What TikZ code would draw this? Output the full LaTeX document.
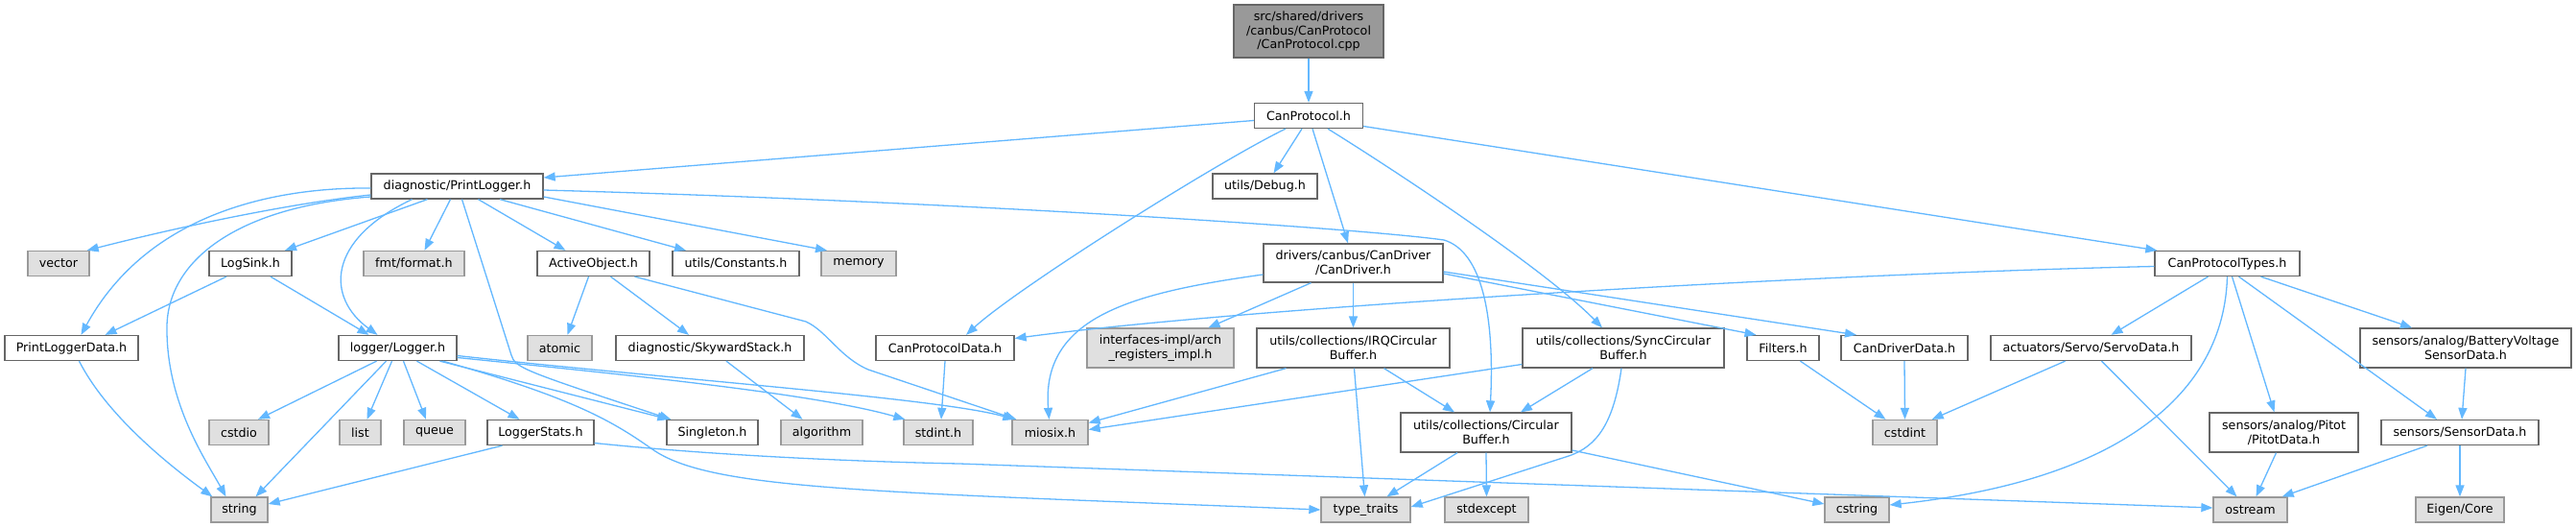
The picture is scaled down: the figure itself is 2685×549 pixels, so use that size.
\documentclass[tikz,border=0pt]{standalone}
\usepackage{fontspec}
\setmainfont{DejaVu Sans}
\usetikzlibrary{arrows.meta,calc}
\definecolor{edgecol}{HTML}{63B8FF}
\definecolor{boxborder}{HTML}{666666}
\definecolor{gborder}{HTML}{999999}
\definecolor{gfill}{HTML}{E0E0E0}
\definecolor{topfill}{HTML}{999999}
\newcommand\nodefont{\fontsize{12.7}{14.7}\selectfont}
\tikzset{
  wbox/.style={draw=boxborder, fill=white, line width=1.3pt, font=\nodefont, align=center, inner sep=0pt, minimum height=26pt},
  gbox/.style={wbox, draw=gborder, fill=gfill},
  tbox/.style={wbox, draw=boxborder, fill=topfill},
  dbl/.style={minimum height=41pt},
  edge/.style={draw=edgecol, line width=1.3pt, -{Triangle[length=12pt,width=9pt,fill=edgecol]}},
}
\begin{document}
\begin{tikzpicture}[x=1pt,y=-1pt]
\fill[white] (0,0) rectangle (2685,549);
\useasboundingbox (0,0) rectangle (2685,549);
% row 0-2
\node[tbox, minimum width=156pt, minimum height=55pt] (top) at (1364,32.5) {src/shared/drivers\\/canbus/CanProtocol\\/CanProtocol.cpp};
\node[wbox, minimum width=113pt] (cp) at (1364,120.5) {CanProtocol.h};
\node[wbox, minimum width=179pt] (pl) at (476.5,194) {diagnostic/PrintLogger.h};
\node[wbox, minimum width=109pt] (dbg) at (1318.5,194) {utils/Debug.h};
% row 3
\node[gbox, minimum width=64pt] (vector) at (61,274.5) {vector};
\node[wbox, minimum width=86pt] (logsink) at (261,274.5) {LogSink.h};
\node[gbox, minimum width=105pt] (fmt) at (431.5,274.5) {fmt/format.h};
\node[wbox, minimum width=117pt] (activeobj) at (618.5,274.5) {ActiveObject.h};
\node[wbox, minimum width=132pt] (constants) at (767,274.5) {utils/Constants.h};
\node[gbox, minimum width=78pt] (memory) at (895,274.5) {memory};
\node[wbox, minimum width=187pt, minimum height=40pt] (candriver) at (1410.5,274) {drivers/canbus/CanDriver\\/CanDriver.h};
\node[wbox, minimum width=151pt] (cptypes) at (2321.5,274.5) {CanProtocolTypes.h};
% row 4
\node[wbox, minimum width=139pt] (pldata) at (74.5,362.5) {PrintLoggerData.h};
\node[wbox, minimum width=123pt] (logger) at (414.5,362.5) {logger/Logger.h};
\node[gbox, minimum width=67pt] (atomic) at (583.5,362.5) {atomic};
\node[wbox, minimum width=196pt] (skyward) at (740,362.5) {diagnostic/SkywardStack.h};
\node[wbox, minimum width=144pt] (cpdata) at (985,362.5) {CanProtocolData.h};
\node[gbox, dbl, minimum width=153pt] (arch) at (1209.5,362.5) {interfaces-impl/arch\\\_registers\_impl.h};
\node[wbox, dbl, minimum width=201pt] (irq) at (1410.5,362.5) {utils/collections/IRQCircular\\Buffer.h};
\node[wbox, dbl, minimum width=210pt] (sync) at (1692,362.5) {utils/collections/SyncCircular\\Buffer.h};
\node[wbox, minimum width=75pt] (filters) at (1858.5,362.5) {Filters.h};
\node[wbox, minimum width=132pt] (cddata) at (1985,362.5) {CanDriverData.h};
\node[wbox, minimum width=209pt] (servo) at (2179.5,362.5) {actuators/Servo/ServoData.h};
\node[wbox, dbl, minimum width=220pt] (battery) at (2570,362.5) {sensors/analog/BatteryVoltage\\SensorData.h};
% row 5
\node[gbox, minimum width=62pt] (cstdio) at (249,450.5) {cstdio};
\node[gbox, minimum width=43pt] (list) at (375.5,450.5) {list};
\node[gbox, minimum width=64pt] (queue) at (453,450.5) {queue};
\node[wbox, minimum width=111pt] (loggerstats) at (563.5,450.5) {LoggerStats.h};
\node[wbox, minimum width=95pt] (singleton) at (742.5,450.5) {Singleton.h};
\node[gbox, minimum width=85pt] (algorithm) at (856.5,450.5) {algorithm};
\node[gbox, minimum width=72pt] (stdint) at (978,450.5) {stdint.h};
\node[gbox, minimum width=79pt] (miosix) at (1094.5,450.5) {miosix.h};
\node[wbox, dbl, minimum width=178pt] (circbuf) at (1549,450.5) {utils/collections/Circular\\Buffer.h};
\node[gbox, minimum width=67pt] (cstdint) at (1985.5,450.5) {cstdint};
\node[wbox, dbl, minimum width=155pt] (pitot) at (2380.5,450.5) {sensors/analog/Pitot\\/PitotData.h};
\node[wbox, minimum width=164pt] (sensordata) at (2564,450.5) {sensors/SensorData.h};
% row 6
\node[gbox, minimum width=59pt] (string) at (249.5,531) {string};
\node[gbox, minimum width=93pt] (typetraits) at (1423.5,531) {type\_traits};
\node[gbox, minimum width=87pt] (stdexcept) at (1549.5,531) {stdexcept};
\node[gbox, minimum width=67pt] (cstring) at (1935.5,531) {cstring};
\node[gbox, minimum width=77pt] (ostream) at (2345.5,531) {ostream};
\node[gbox, minimum width=92pt] (eigen) at (2564,531) {Eigen/Core};

% ---- edges ----
\draw[edge] (top) -- (cp);
\draw[edge] ($(cp.west)+(0,5)$) -- ($(pl.east)+(0,-9)$);
\draw[edge] ($(cp.south)+(-7,0)$) -- ($(dbg.north)+(9,0)$);
\draw[edge] ($(cp.south)+(-24,0)$) .. controls (1270,168) and (1060,300) .. ($(cpdata.north)+(22,0)$);
\draw[edge] ($(cp.south)+(4,0)$) -- ($(candriver.north)+(-5.5,0)$);
\draw[edge] ($(cp.south)+(20,0)$) .. controls (1450,175) and (1610,280) .. ($(sync.north)+(-22,0)$);
\draw[edge] ($(cp.east)+(0,11)$) -- ($(cptypes.north west)+(3,0)$);
% PrintLogger
\draw[edge] ($(pl.west)+(0,9)$) .. controls (300,212) and (180,238) .. ($(vector.north east)+(-3,0)$);
\draw[edge] ($(pl.west)+(0,2)$) .. controls (290,195) and (155,220) .. ($(pldata.north)+(10,0)$);
\draw[edge] ($(pl.west)+(0,11)$) .. controls (250,215) and (175,270) .. (174,340) .. controls (173,420) and (215,480) .. ($(string.north)+(-14,0)$);
\draw[edge] ($(pl.south)+(-31,0)$) -- ($(logsink.north)+(36,0)$);
\draw[edge] ($(pl.south)+(-47,0)$) .. controls (340,250) and (340,310) .. ($(logger.north)+(-21,0)$);
\draw[edge] ($(pl.south)+(-7,0)$) -- ($(fmt.north)+(11,0)$);
\draw[edge] ($(pl.south)+(5,0)$) -- (533,370) .. controls (537,383) and (545,386) .. ($(singleton.north west)+(5,0)$);
\draw[edge] ($(pl.south)+(22,0)$) -- ($(activeobj.north)+(-29,0)$);
\draw[edge] ($(pl.south)+(44.5,0)$) -- ($(constants.north)+(-52,0)$);
\draw[edge] ($(pl.east)+(0,11)$) -- ($(memory.north)+(-33,0)$);
\draw[edge] ($(pl.east)+(0,4)$) .. controls (1000,210) and (1420,238) .. (1505,250) .. controls (1545,262) and (1558,330) .. ($(circbuf.north)+(4,0)$);
% LogSink, PrintLoggerData, ActiveObject, SkywardStack
\draw[edge] ($(logsink.south)+(-25,0)$) -- ($(pldata.north)+(35,0)$);
\draw[edge] ($(logsink.south)+(21,0)$) -- ($(logger.north)+(-30,0)$);
\draw[edge] ($(pldata.south)+(8,0)$) .. controls (110,430) and (170,480) .. ($(string.north west)+(2,0)$);
\draw[edge] ($(activeobj.south)+(-5,0)$) -- ($(atomic.north)+(8,0)$);
\draw[edge] ($(activeobj.south)+(18,0)$) -- ($(skyward.north)+(-22,0)$);
\draw[edge] ($(activeobj.south)+(43,0)$) -- (840,335) .. controls (862,345) and (875,372) .. (905,385) -- ($(miosix.north west)+(5,0)$);
\draw[edge] ($(skyward.south)+(17,0)$) -- ($(algorithm.north)+(-20,0)$);
% Logger
\draw[edge] ($(logger.south)+(-22,0)$) -- ($(cstdio.north)+(20,0)$);
\draw[edge] ($(logger.south)+(-6,0)$) -- ($(list.north)+(7,0)$);
\draw[edge] ($(logger.south)+(6,0)$) -- ($(queue.north)+(-9,0)$);
\draw[edge] ($(logger.south)+(20,0)$) -- ($(loggerstats.north)+(-22,0)$);
\draw[edge] ($(logger.south)+(-12,0)$) -- ($(string.north)+(17,0)$);
\draw[edge] ($(logger.south)+(44,0)$) -- ($(singleton.north west)+(3,0)$);
\draw[edge] ($(logger.east)+(0,10)$) .. controls (650,390) and (850,410) .. ($(stdint.north west)+(2,0)$);
\draw[edge] ($(logger.east)+(0,8)$) .. controls (700,395) and (980,415) .. ($(miosix.north west)+(3,0)$);
\draw[edge] ($(logger.south)+(47,0)$) .. controls (600,415) and (640,440) .. (680,468) .. controls (740,510) and (900,512) .. (typetraits.west);
% LoggerStats
\draw[edge] ($(loggerstats.south)+(-40,0)$) -- ($(string.east)+(0,-6)$);
\draw[edge] ($(loggerstats.east)+(0,11)$) .. controls (750,475) and (900,481) .. (1000,483) -- ($(ostream.west)+(0,-2)$);
% CanProtocolData
\draw[edge] (cpdata.south) -- ($(stdint.north)+(3,0)$);
% CanDriver
\draw[edge] ($(candriver.west)+(0,12)$) .. controls (1180,305) and (1085,330) .. ($(miosix.north)+(-1,0)$);
\draw[edge] ($(candriver.south)+(-44,0)$) -- ($(arch.north)+(50,0)$);
\draw[edge] (candriver.south) -- (irq.north);
\draw[edge] ($(candriver.east)+(0,11)$) -- ($(filters.north)+(-28,0)$);
\draw[edge] ($(candriver.east)+(0,9)$) -- ($(cddata.north)+(-50,0)$);
% CanProtocolTypes
\draw[edge] ($(cptypes.west)+(0,3)$) .. controls (1900,285) and (1300,320) .. ($(cpdata.east)+(0,-10)$);
\draw[edge] ($(cptypes.south)+(-20,0)$) -- ($(servo.north)+(21,0)$);
\draw[edge] (cptypes.south) .. controls (2318,410) and (2210,500) .. ($(cstring.east)+(0,-5)$);
\draw[edge] ($(cptypes.south)+(5,0)$) -- ($(pitot.north)+(-10,0)$);
\draw[edge] ($(cptypes.south)+(12,0)$) -- ($(sensordata.north)+(-24,0)$);
\draw[edge] ($(cptypes.south)+(35,0)$) -- ($(battery.north)+(-56,0)$);
% IRQ / Sync / Circular
\draw[edge] ($(irq.south)+(-70,0)$) -- ($(miosix.east)+(0,-10)$);
\draw[edge] ($(irq.south)+(1,0)$) -- ($(typetraits.north)+(-1,0)$);
\draw[edge] ($(irq.south)+(32,0)$) -- ($(circbuf.north)+(-33,0)$);
\draw[edge] ($(sync.west)+(0,17)$) -- ($(miosix.east)+(0,-3)$);
\draw[edge] ($(sync.south)+(-32,0)$) -- ($(circbuf.north)+(36,0)$);
\draw[edge] ($(sync.south)+(-2,0)$) .. controls (1682,440) and (1665,465) .. (1635,475) -- ($(typetraits.east)+(0,-3)$);
\draw[edge] ($(circbuf.south)+(-30,0)$) -- ($(typetraits.north)+(22,0)$);
\draw[edge] (circbuf.south) -- (stdexcept.north);
\draw[edge] ($(circbuf.east)+(0,18.5)$) -- ($(cstring.west)+(0,-6)$);
% Filters, CanDriverData, Servo, Pitot, SensorData, Battery
\draw[edge] ($(filters.south)+(18,0)$) -- ($(cstdint.north)+(-20,0)$);
\draw[edge] (cddata.south) -- (cstdint.north);
\draw[edge] ($(servo.south)+(-27,0)$) -- ($(cstdint.north east)+(-6,0)$);
\draw[edge] ($(servo.south)+(11,0)$) -- ($(ostream.north)+(-14,0)$);
\draw[edge] ($(pitot.south)+(-8,0)$) -- ($(ostream.north)+(6,0)$);
\draw[edge] ($(sensordata.south)+(-34,0)$) -- ($(ostream.north east)+(-6,0)$);
\draw[edge] (sensordata.south) -- (eigen.north);
\draw[edge] (battery.south) -- ($(sensordata.north)+(2,0)$);
\end{tikzpicture}
\end{document}
